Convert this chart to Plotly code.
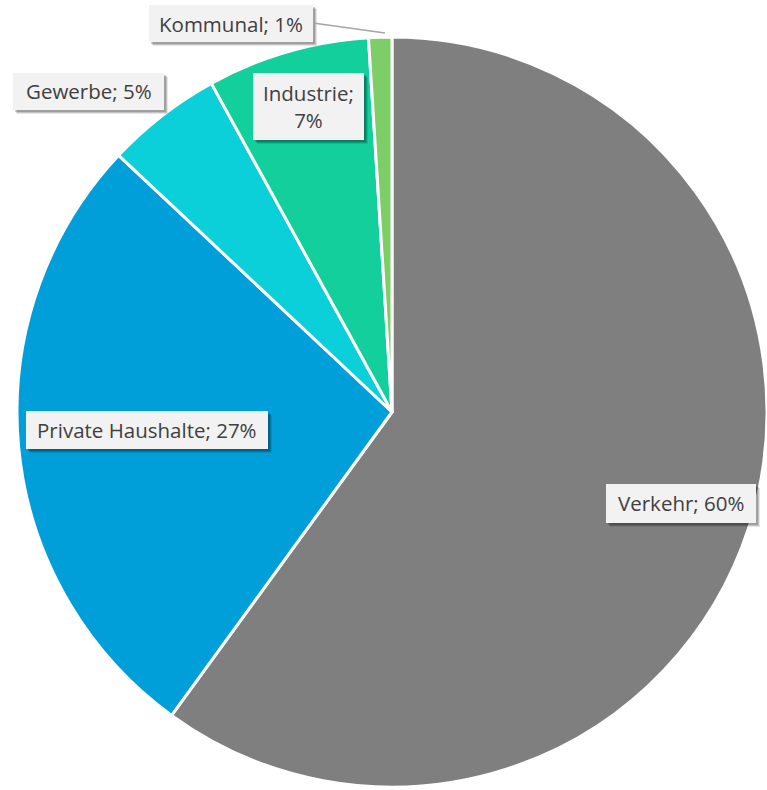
import plotly.graph_objects as go

W, H = 767, 790

labels = ["Verkehr", "Private Haushalte", "Gewerbe", "Industrie", "Kommunal"]
values = [60, 27, 5, 7, 1]
colors = ["#7F7F7F", "#009FDA", "#0BCFD9", "#13CF9B", "#7ECE68"]
label_texts = ["Verkehr; 60%", "Private Haushalte; 27%", "Gewerbe; 5%", "Industrie;<br>7%", "Kommunal; 1%"]

# label box rectangles in pixels (x0, y0, x1, y1) from top-left
boxes = [
    (606, 484, 756, 523),
    (26, 411, 268, 449),
    (13, 73, 164, 110),
    (253, 73, 364, 140),
    (149, 5, 313, 42),
]

def px(x):
    return x / W

def py(y):
    return 1 - y / H

fig = go.Figure(go.Pie(
    labels=labels,
    values=values,
    sort=False,
    direction="clockwise",
    rotation=0,
    textinfo="none",
    hoverinfo="label+percent",
    marker=dict(colors=colors, line=dict(color="white", width=3)),
    domain=dict(x=[px(17), 1.0], y=[py(787), py(37)]),
    showlegend=False,
))

shapes = []
annotations = []
for (x0, y0, x1, y1), txt in zip(boxes, label_texts):
    # soft shadow
    for off, op in [(4, 0.10), (3, 0.15), (2, 0.18)]:
        shapes.append(dict(type="rect", xref="paper", yref="paper",
                           x0=px(x0 + off), x1=px(x1 + off), y0=py(y1 + off), y1=py(y0 + off),
                           line=dict(width=0), fillcolor=f"rgba(0,0,0,{op})", layer="above"))
    shapes.append(dict(type="rect", xref="paper", yref="paper",
                       x0=px(x0), x1=px(x1), y0=py(y1), y1=py(y0),
                       line=dict(width=0), fillcolor="#F2F2F2", layer="above"))
    annotations.append(dict(text=txt, xref="paper", yref="paper",
                            x=px((x0 + x1) / 2), y=py((y0 + y1) / 2),
                            xanchor="center", yanchor="middle", showarrow=False,
                            font=dict(family="Open Sans", size=20.5, color="#404040")))

# leader line for Kommunal
shapes.append(dict(type="line", xref="paper", yref="paper",
                   x0=px(313), y0=py(23), x1=px(385), y1=py(33),
                   line=dict(color="#A6A6A6", width=1.5), layer="above"))

fig.update_layout(
    width=W, height=H,
    margin=dict(l=0, r=0, t=0, b=0),
    paper_bgcolor="white",
    plot_bgcolor="white",
    shapes=shapes,
    annotations=annotations,
)

fig.write_html("out.html")
